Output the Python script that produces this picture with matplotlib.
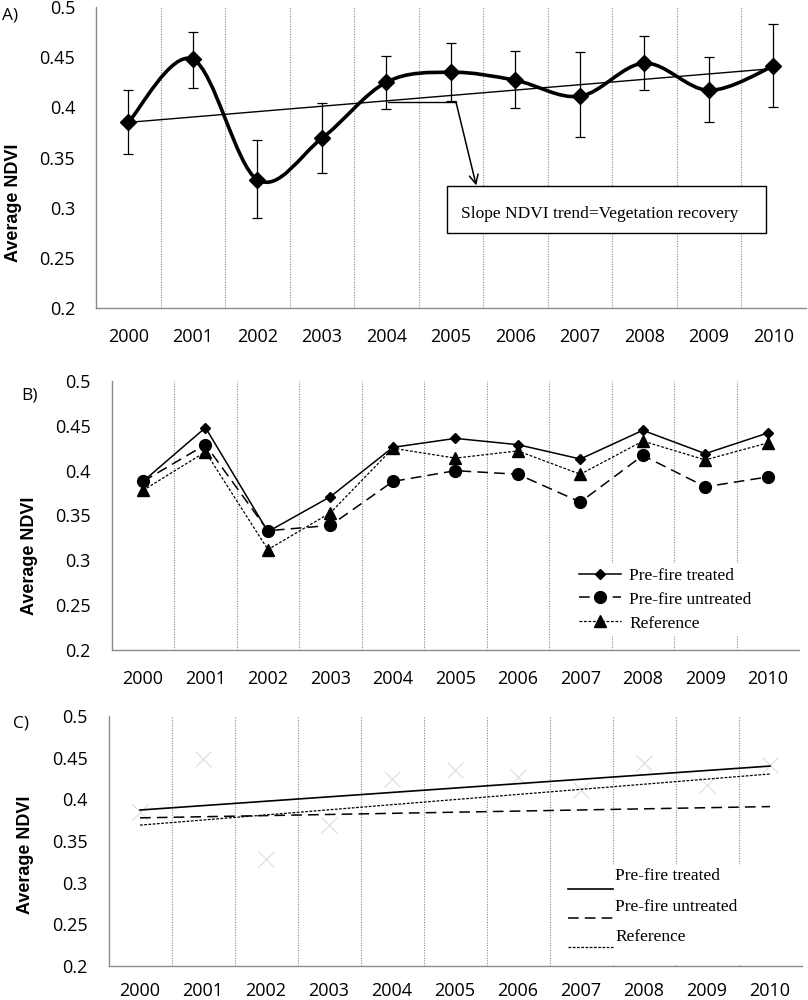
import numpy as np
import matplotlib
matplotlib.use("Agg")
import matplotlib.pyplot as plt
from matplotlib.path import Path
from matplotlib.patches import PathPatch, Rectangle
from matplotlib.lines import Line2D

plt.rcParams['font.family'] = ['Open Sans', 'DejaVu Sans']

# ---------------- data ----------------
years = ["2000", "2001", "2002", "2003", "2004", "2005", "2006", "2007", "2008", "2009", "2010"]
y_ticks = [0.2, 0.25, 0.3, 0.35, 0.4, 0.45, 0.5]
y_tick_labels = ["0.2", "0.25", "0.3", "0.35", "0.4", "0.45", "0.5"]

# Panel A: average NDVI with error bars (bar ends)
ndvi_mean = [0.385, 0.448, 0.328, 0.369, 0.425, 0.435, 0.427, 0.411, 0.444, 0.417, 0.441]
ndvi_err_low = [0.353, 0.419, 0.290, 0.335, 0.398, 0.406, 0.399, 0.370, 0.417, 0.385, 0.400]
ndvi_err_high = [0.417, 0.475, 0.367, 0.404, 0.451, 0.464, 0.456, 0.455, 0.471, 0.450, 0.483]

# Panel B: three series
treated = [0.388, 0.448, 0.332, 0.371, 0.426, 0.436, 0.429, 0.413, 0.445, 0.419, 0.442]
untreated = [0.388, 0.429, 0.333, 0.339, 0.388, 0.400, 0.396, 0.365, 0.417, 0.382, 0.393]
reference = [0.378, 0.421, 0.312, 0.353, 0.425, 0.414, 0.422, 0.396, 0.433, 0.412, 0.431]

series_labels = ["Pre-fire treated", "Pre-fire untreated", "Reference"]
annotation_text = "Slope NDVI trend=Vegetation recovery"
ylabel = "Average NDVI"

x = np.arange(len(years))
SERIF = ['Liberation Serif', 'DejaVu Serif']
GRID_C = '#8a8a8a'
SPINE_C = '#8c8c8c'
TICK_FS = 13


def smooth_path(xs, ys):
    xs = np.asarray(xs, float)
    ys = np.asarray(ys, float)
    n = len(xs)
    verts = [(xs[0], ys[0])]
    codes = [Path.MOVETO]
    for i in range(n - 1):
        xa, ya = (xs[i - 1], ys[i - 1]) if i > 0 else (xs[i], ys[i])
        xb, yb = (xs[i + 2], ys[i + 2]) if i + 2 < n else (xs[i + 1], ys[i + 1])
        c1 = (xs[i] + (xs[i + 1] - xa) / 6.0, ys[i] + (ys[i + 1] - ya) / 6.0)
        c2 = (xs[i + 1] - (xb - xs[i]) / 6.0, ys[i + 1] - (yb - ys[i]) / 6.0)
        verts += [c1, c2, (xs[i + 1], ys[i + 1])]
        codes += [Path.CURVE4] * 3
    return Path(verts, codes)


def setup(ax, xpad, ypad):
    ax.set_xlim(-0.5, len(years) - 0.5)
    ax.set_ylim(0.2, 0.5)
    ax.set_xticks(x)
    ax.set_xticklabels(years)
    ax.set_yticks(y_ticks)
    ax.set_yticklabels(y_tick_labels)
    ax.tick_params(axis='x', length=0, labelsize=TICK_FS, pad=xpad)
    ax.tick_params(axis='y', length=0, labelsize=TICK_FS, pad=ypad)
    for s in ['top', 'right']:
        ax.spines[s].set_visible(False)
    for s in ['left', 'bottom']:
        ax.spines[s].set_color(SPINE_C)
        ax.spines[s].set_linewidth(1.0)
        ax.spines[s].set_zorder(6)
    for b in np.arange(0.5, len(years) - 0.5, 1.0):
        ax.axvline(b, color=GRID_C, lw=0.8, ls=(0, (1, 1.3)), zorder=0.5)


fig = plt.figure(figsize=(8.08, 10.0), dpi=100)
fig.patch.set_facecolor('white')

axA = fig.add_axes([96 / 808, 0.692, 709.5 / 808, 0.301])
axB = fig.add_axes([111.75 / 808, 0.350, 687.25 / 808, 0.269])
axC = fig.add_axes([108.5 / 808, 0.034, 693 / 808, 0.250])

# ---------------- Panel A ----------------
setup(axA, 14.5, 15)
mean = np.array(ndvi_mean)
yerr = [mean - np.array(ndvi_err_low), np.array(ndvi_err_high) - mean]
axA.errorbar(x, mean, yerr=yerr, fmt='none', ecolor='black', elinewidth=0.9,
             capsize=3.5, capthick=0.9, zorder=2)
coef = np.polyfit(x, mean, 1)
axA.plot(x[[0, -1]], np.polyval(coef, x[[0, -1]]), color='black', lw=1.0, zorder=2)
axA.add_patch(PathPatch(smooth_path(x, mean), fill=False, edgecolor='black',
                        lw=2.6, capstyle='round', joinstyle='round', zorder=3))
axA.plot(x, mean, ls='none', marker='D', ms=8, color='black', zorder=4)

# annotation bracket + arrow + box
axA.plot([4.03, 5.08], [0.4056, 0.4056], color='black', lw=1.0, zorder=3)
axA.annotate('', xy=(5.395, 0.3222), xytext=(5.08, 0.4056),
             arrowprops=dict(arrowstyle='->', color='black', lw=1.1,
                             mutation_scale=16, shrinkA=0, shrinkB=0), zorder=5)
axA.add_patch(Rectangle((4.946, 0.2748), 9.89 - 4.946, 0.3216 - 0.2748,
                        facecolor='white', edgecolor='black', lw=1.0, zorder=4))
axA.text(5.163, 0.2937, annotation_text, family=SERIF, fontsize=12.5,
         va='center', ha='left', zorder=6)

# ---------------- Panel B ----------------
setup(axB, 14.5, 15)
axB.plot(x, treated, color='black', lw=1.1, marker='D', ms=5, label=series_labels[0], zorder=3)
axB.plot(x, untreated, color='black', lw=1.1, dashes=(7, 4), marker='o', ms=8.5,
         label=series_labels[1], zorder=3)
axB.plot(x, reference, color='black', lw=0.9, dashes=(2.2, 1.4), marker='^', ms=8,
         label=series_labels[2], zorder=3)
legB = axB.legend(loc='upper left', bbox_to_anchor=(0.674, 0.323), borderaxespad=0,
                  frameon=True, facecolor='white', edgecolor='none', framealpha=1,
                  fancybox=False, prop={'family': SERIF, 'size': 12.5},
                  handlelength=2.42, handletextpad=0.45, labelspacing=0.45,
                  borderpad=0.25, numpoints=1)
legB.set_zorder(5)

# ---------------- Panel C ----------------
setup(axC, 11.5, 15)
axC.plot(x, mean, ls='none', marker='x', ms=11, mew=0.8, color='#dddddd', zorder=1)
styles = [dict(color='black', lw=1.2, ls='-'),
          dict(color='black', lw=1.1, dashes=(7, 4)),
          dict(color='black', lw=0.9, dashes=(2.2, 1.2))]
for vals, st in zip([treated, untreated, reference], styles):
    c = np.polyfit(x, vals, 1)
    axC.plot(x[[0, -1]], np.polyval(c, x[[0, -1]]), zorder=3, **st)

# custom legend for C (handles under the text)
axC.add_patch(Rectangle((0.655, 0.004), 0.345, 0.40, transform=axC.transAxes,
                        facecolor='white', edgecolor='none', zorder=2))
text_y = [0.36, 0.236, 0.116]
line_y = [0.308, 0.192, 0.076]
for lab, ty, ly, st in zip(series_labels, text_y, line_y, styles):
    axC.add_line(Line2D([0.663, 0.728], [ly, ly], transform=axC.transAxes, zorder=4, **st))
    axC.text(0.731, ty, lab, transform=axC.transAxes, family=SERIF, fontsize=12.5,
             va='center', ha='left', zorder=4)

# ---------------- labels ----------------
lab_kw = dict(rotation=90, ha='center', va='center', fontsize=13, fontweight='bold',
              family=['Liberation Sans', 'DejaVu Sans'])
fig.text(14 / 808, 1 - 203 / 1000, ylabel, **lab_kw)
fig.text(30 / 808, 1 - 556 / 1000, ylabel, **lab_kw)
fig.text(26 / 808, 1 - 855 / 1000, ylabel, **lab_kw)

fig.text(2 / 808, 1 - 15 / 1000, "A)", fontsize=12.5, ha='left', va='center')
fig.text(21 / 808, 1 - 396 / 1000, "B)", fontsize=12.5, ha='left', va='center')
fig.text(13 / 808, 1 - 723 / 1000, "C)", fontsize=12.5, ha='left', va='center')

fig.savefig('out.png', dpi=100, facecolor='white')
